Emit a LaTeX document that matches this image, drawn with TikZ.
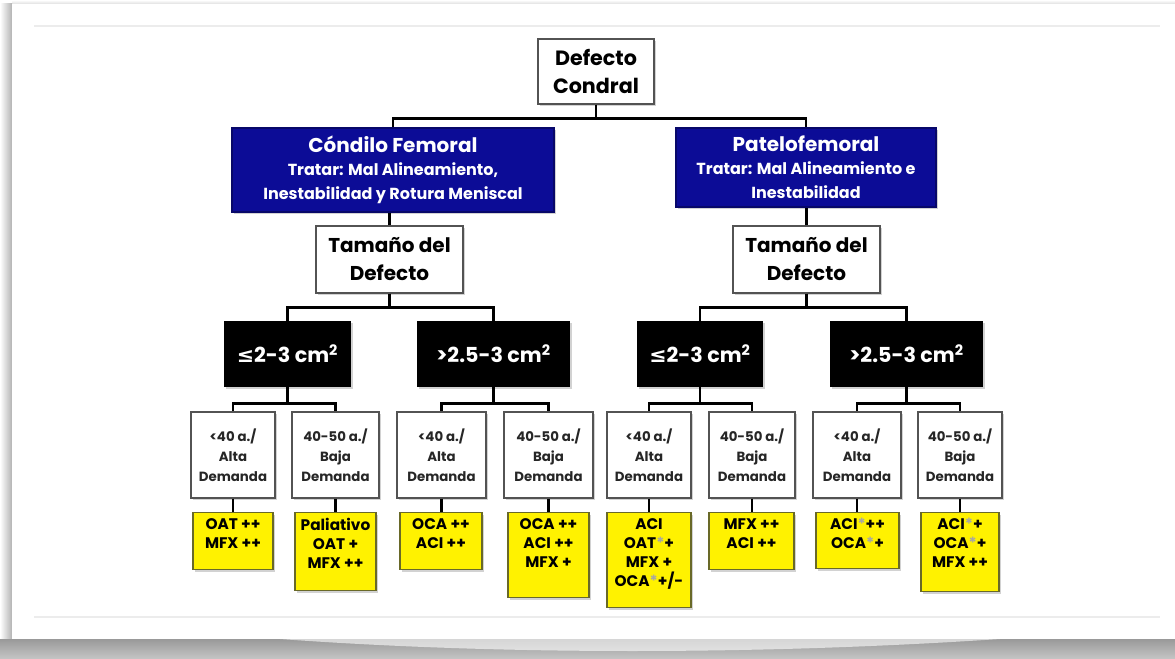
\documentclass[tikz,border=0pt]{standalone}
\usepackage{fontspec}
\setmainfont{Poppins}
\newfontfamily\symfont{DejaVu Sans}
\usetikzlibrary{shadows}
\definecolor{cblue}{RGB}{12,12,150}
\definecolor{yborder}{RGB}{105,105,40}
\newcommand{\st}{\textcolor{gray!70}{*}}
\newcommand{\ymp}[3]{\begin{minipage}[c][#1][t]{#2}\centering\vspace*{4.5pt}#3\end{minipage}}
\begin{document}
\begin{tikzpicture}[x=0.75pt,y=-0.75pt,
  conn/.style={line width=2pt, black},
  shad/.style={drop shadow={shadow xshift=1.2pt,shadow yshift=-1.5pt,opacity=0.35}},
  wbox/.style={draw=gray!65!black, line width=1pt, fill=white, shad, align=center, inner sep=0pt, text=black},
  rootbox/.style={wbox, font=\bfseries\fontsize{15.5}{21}\selectfont},
  bluebox/.style={fill=cblue, draw=cblue!70!black, line width=0.8pt, shad, align=center, inner sep=0pt, text=white, font=\bfseries\fontsize{12}{18}\selectfont},
  blackbox/.style={fill=black, shad, inner sep=0pt, text=white, minimum height=49.5pt, font=\bfseries\fontsize{15.5}{17}\selectfont},
  agebox/.style={wbox, minimum height=64.5pt, font=\bfseries\fontsize{10}{15}\selectfont, text=black!85},
  ybox/.style={fill=yellow, draw=yborder, line width=0.9pt, shad, inner sep=0pt, anchor=north, font=\bfseries\fontsize{11.5}{14.25}\selectfont},
]
\useasboundingbox (0,0) rectangle (1175,659);
% background frame
\fill[white] (0,0) rectangle (1175,659);
\shade[top color=white, bottom color=gray!25] (12,0) rectangle (1175,4);
\shade[left color=white, right color=gray!60] (0,4) rectangle (12,639);
\shade[top color=gray!80, bottom color=gray!45] (0,639) rectangle (1175,659);
\fill[white, opacity=0.6] (280,639) .. controls (500,655) and (760,655) .. (1000,639) -- cycle;
\fill[white] (12,4) rectangle (1175,639);
\draw[gray!15, line width=1pt] (34,26) -- (1160,26);
\draw[gray!15, line width=1pt] (34,617) -- (1160,617);

% level 0
\node[rootbox, minimum width=87pt, minimum height=48.75pt] (root) at (596,71.5) {Defecto\\Condral};
% level 1
\node[bluebox, minimum width=241.5pt, minimum height=63pt] (cf) at (393,170)
  {{\fontsize{15}{18}\selectfont Cóndilo Femoral}\\[-1pt]Tratar: Mal Alineamiento,\\Inestabilidad y Rotura Meniscal};
\node[bluebox, minimum width=195pt, minimum height=59.25pt] (pf) at (806,167.5)
  {{\fontsize{15}{18}\selectfont Patelofemoral}\\[-1pt]Tratar: Mal Alineamiento e\\Inestabilidad};
% level 2
\node[rootbox, font=\bfseries\fontsize{15}{21}\selectfont, minimum width=110.25pt, minimum height=50.25pt] (tl) at (389.5,259.5) {Tamaño del\\Defecto};
\node[rootbox, font=\bfseries\fontsize{15}{21}\selectfont, minimum width=110.25pt, minimum height=50.25pt] (tr) at (806.5,259.5) {Tamaño del\\Defecto};
% level 3
\node[blackbox, minimum width=95.25pt] (b1) at (287.5,354) {{\symfont ≤}2-3 cm\textsuperscript{2}};
\node[blackbox, minimum width=114.75pt] (b2) at (493.5,354) {>2.5-3 cm\textsuperscript{2}};
\node[blackbox, minimum width=94.5pt] (b3) at (700,354) {{\symfont ≤}2-3 cm\textsuperscript{2}};
\node[blackbox, minimum width=114.75pt] (b4) at (906.5,354) {>2.5-3 cm\textsuperscript{2}};
% level 4
\node[agebox, minimum width=63pt] (w1) at (233,455) {<40 a./\\Alta\\Demanda};
\node[agebox, minimum width=65.25pt] (w2) at (335.5,455) {40-50 a./\\Baja\\Demanda};
\node[agebox, minimum width=66.75pt] (w3) at (441.5,455) {<40 a./\\Alta\\Demanda};
\node[agebox, minimum width=66.75pt] (w4) at (548.5,455) {40-50 a./\\Baja\\Demanda};
\node[agebox, minimum width=63pt] (w5) at (649,455) {<40 a./\\Alta\\Demanda};
\node[agebox, minimum width=64.5pt] (w6) at (752,455) {40-50 a./\\Baja\\Demanda};
\node[agebox, minimum width=66pt] (w7) at (857,455) {<40 a./\\Alta\\Demanda};
\node[agebox, minimum width=63pt] (w8) at (960,455) {40-50 a./\\Baja\\Demanda};
% level 5
\node[ybox] (y1) at (233,512) {\ymp{42.75pt}{60pt}{OAT ++\\MFX ++}};
\node[ybox] (y2) at (335.5,512) {\ymp{58.5pt}{60.75pt}{Paliativo\\OAT +\\MFX ++}};
\node[ybox] (y3) at (441,512) {\ymp{42.75pt}{61.5pt}{OCA ++\\ACI ++}};
\node[ybox] (y4) at (548.5,512) {\ymp{63.75pt}{60.75pt}{OCA ++\\ACI ++\\MFX +}};
\node[ybox] (y5) at (649,512) {\ymp{71.25pt}{63pt}{ACI\\OAT\st+\\MFX +\\OCA\st+/-}};
\node[ybox] (y6) at (751.5,512) {\ymp{42.75pt}{63.75pt}{MFX ++\\ACI ++}};
\node[ybox] (y7) at (857.5,512) {\ymp{42pt}{62.25pt}{ACI\st++\\OCA\st+}};
\node[ybox] (y8) at (960,512) {\ymp{59.25pt}{58.5pt}{ACI\st+\\OCA\st+\\MFX ++}};

% connectors
\draw[conn] (root.south) -- ++(0,14) -| (cf.north);
\draw[conn] (root.south) -- ++(0,14) -| (pf.north);
\draw[conn] (tl.north) -- (tl.north |- cf.south);
\draw[conn] (tr.north) -- (tr.north |- pf.south);
\draw[conn] (tl.south) -- ++(0,14) -| (b1.north);
\draw[conn] (tl.south) -- ++(0,14) -| (b2.north);
\draw[conn] (tr.south) -- ++(0,14) -| (b3.north);
\draw[conn] (tr.south) -- ++(0,14) -| (b4.north);
\draw[conn] (b1.south) -- ++(0,16) -| (w1.north);
\draw[conn] (b1.south) -- ++(0,16) -| (w2.north);
\draw[conn] (b2.south) -- ++(0,16) -| (w3.north);
\draw[conn] (b2.south) -- ++(0,16) -| (w4.north);
\draw[conn] (b3.south) -- ++(0,16) -| (w5.north);
\draw[conn] (b3.south) -- ++(0,16) -| (w6.north);
\draw[conn] (b4.south) -- ++(0,16) -| (w7.north);
\draw[conn] (b4.south) -- ++(0,16) -| (w8.north);
\foreach \i in {1,...,8} {
  \draw[conn] (w\i.south) -- (w\i.south |- y\i.north);
}
\end{tikzpicture}
\end{document}
